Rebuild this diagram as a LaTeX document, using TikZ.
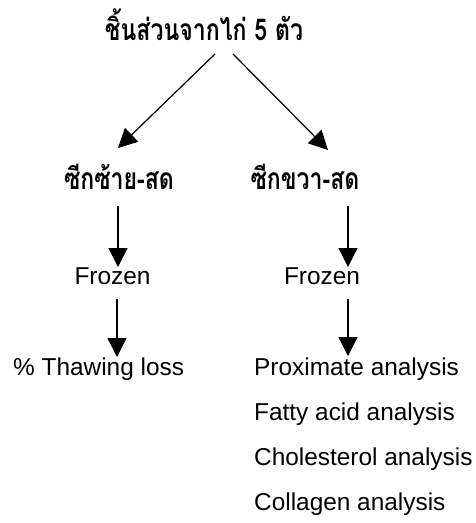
\documentclass[tikz,border=0pt]{standalone}
\usepackage{fontspec}
\setmainfont{Liberation Sans}
\newfontfamily\thaifont[Script=Thai]{Loma}
\usetikzlibrary{arrows.meta,calc}
% condensed bold Thai heading text
\newcommand{\thaitxt}[1]{\scalebox{0.77}[1]{\thaifont\bfseries\fontsize{30}{34}\selectfont #1}}
\begin{document}
\begin{tikzpicture}[x=1pt,y=-1pt,
  thai/.style={inner sep=0, anchor=base},
  lbl/.style={font=\fontsize{24.4}{28}\selectfont, inner sep=0},
  arr/.style={line width=1.2pt, -{Triangle[length=19pt,width=19pt]}}]
\useasboundingbox (0,0) rectangle (475,523);

% sample and its two halves
\node[thai] (src) at (204,40) {\thaitxt{ชิ้นส่วนจากไก่ 5 ตัว}};
\node[thai] (sl) at (119,189) {\thaitxt{ซีกซ้าย-สด}};
\node[thai] (sr) at (305,189) {\thaitxt{ซีกขวา-สด}};

% frozen stage
\node[lbl, anchor=base] (fl) at (112.5,284) {Frozen};
\node[lbl, anchor=base] (fr) at (322,284) {Frozen};

% measurements
\node[lbl, anchor=base west] (thaw) at (13,375) {\% Thawing loss};
\node[lbl, anchor=base west] (prox) at (254,375) {Proximate analysis};
\node[lbl, anchor=base west] (fat) at (254,420) {Fatty acid analysis};
\node[lbl, anchor=base west] (chol) at (254,465) {Cholesterol analysis};
\node[lbl, anchor=base west] (coll) at (254,510) {Collagen analysis};

% connectors
\draw[arr] ($(src.base)+(11,14)$) -- ($(sl.base)+(-1,-41)$);
\draw[arr] ($(src.base)+(29,14)$) -- ($(sr.base)+(23,-39)$);
\draw[arr] ($(sl.base)+(-1,17)$) -- ($(fl.base)+(5.5,-17)$);
\draw[arr] ($(sr.base)+(43,17)$) -- ($(fr.base)+(26,-17)$);
\draw[arr] ($(fl.base)+(4.5,15)$) -- ($(thaw.base west)+(104,-18)$);
\draw[arr] ($(fr.base)+(26,15)$) -- ($(prox.base west)+(94,-19)$);
\end{tikzpicture}
\end{document}
